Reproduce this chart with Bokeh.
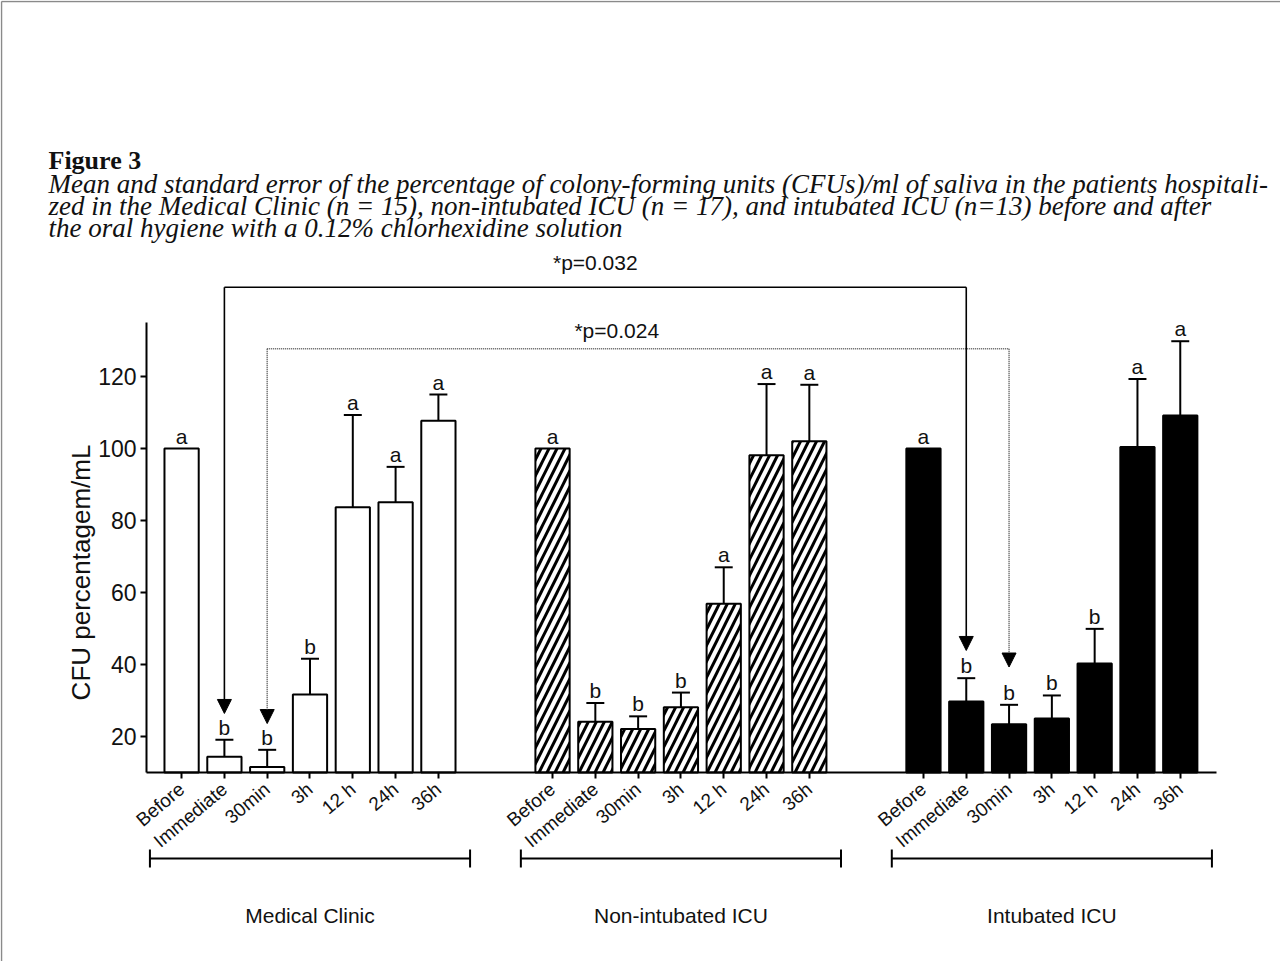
import math
from bokeh.plotting import figure
from bokeh.models import Range1d, LinearAxis, FixedTicker, Arrow, NormalHead
from bokeh.embed import file_html
from bokeh.resources import INLINE
from bokeh.core.properties import value

# ---------------- data ----------------
groups = ["Medical Clinic", "Non-intubated ICU", "Intubated ICU"]
times = ["Before", "Immediate", "30min", "3h", "12 h", "24h", "36h"]

mean_mc = [100.0, 14.4, 11.5, 31.7, 83.7, 85.1, 107.7]
se_mc = [0.0, 4.7, 4.8, 9.9, 25.6, 9.8, 7.3]
let_mc = ["a", "b", "b", "b", "a", "a", "a"]

mean_ni = [100.0, 24.1, 22.1, 28.1, 56.9, 98.1, 102.0]
se_ni = [0.0, 5.2, 3.5, 4.1, 10.1, 19.8, 15.7]
let_ni = ["a", "b", "b", "b", "a", "a", "a"]

mean_ic = [100.0, 29.7, 23.4, 25.0, 40.3, 100.4, 109.2]
se_ic = [0.0, 6.5, 5.4, 6.4, 9.6, 18.9, 20.6]
let_ic = ["a", "b", "b", "b", "b", "a", "a"]

y_ticks = [20, 40, 60, 80, 100, 120]
y_label = "CFU percentagem/mL"

# significance comparisons between Medical Clinic and Intubated ICU
sig_time_idx = [1, 2]
sig_text = ["*p=0.032", "*p=0.024"]
sig_level = [144.8, 127.7]
sig_tip_mc = [26.4, 23.6]
sig_tip_ic = [43.9, 39.3]
sig_label_x_shift = [0.0, -0.5]
sig_label_y = [151.7, 132.8]

title_text = "Figure 3"
caption_lines = [
    "Mean and standard error of the percentage of colony-forming units (CFUs)/ml of saliva in the patients hospitali-",
    "zed in the Medical Clinic (n = 15), non-intubated ICU (n = 17), and intubated ICU (n=13) before and after",
    "the oral hygiene with a 0.12% chlorhexidine solution",
]

# ---------------- layout constants ----------------
W, H = 1280, 961
AX_PX_LEFT, AX_PX_RIGHT = 146, 1216     # pixel extent of x axis
AX_PX_BASE = 772                        # pixel row of y = 10
PX_PER_X = 42.8
PX_PER_Y = 3.6
Y_BASE = 10.0
X_LEFT = -0.82
GROUP_STEP = 26.0 / 3.0
BAR_W = 0.8
CAP_HALF = 0.21
SANS = value("Liberation Sans")
SERIF = value("Liberation Serif")
INK = "#111111"


def X(px):
    return X_LEFT + (px - AX_PX_LEFT) / PX_PER_X


def Y(py):
    return Y_BASE + (AX_PX_BASE - py) / PX_PER_Y


def pos(g, i):
    return round(g * GROUP_STEP + i, 4)


means = [mean_mc, mean_ni, mean_ic]
ses = [se_mc, se_ni, se_ic]
lets = [let_mc, let_ni, let_ic]

p = figure(width=W, height=H, x_range=Range1d(X(0), X(W)), y_range=Range1d(Y(H), Y(0)),
           output_backend="svg", toolbar_location=None, min_border=0,
           x_axis_location=None, y_axis_location=None)
p.grid.grid_line_color = None
p.outline_line_color = None

# page border (grey frame of the figure box)
p.segment(x0=[X(1), X(1)], y0=[Y(1), Y(1)], x1=[X(W), X(1)], y1=[Y(1), Y(H)],
          line_color="#8a8a8a", line_width=1.5)

# heading
p.text(x=[X(48)], y=[Y(160)], text=[title_text], text_font=SERIF, text_font_style="bold",
       text_font_size="26px", text_color=INK, text_baseline="alphabetic")
p.text(x=[X(48)] * 3, y=[Y(183), Y(205), Y(227)], text=caption_lines, text_font=SERIF,
       text_font_style="italic", text_font_size="27px", text_color=INK,
       text_baseline="alphabetic")

# bars
fills = ["white", "white", "black"]
for g in range(3):
    xs = [pos(g, i) for i in range(7)]
    kw = dict(x=xs, width=BAR_W, bottom=Y_BASE, top=means[g], fill_color=fills[g],
              line_color="black", line_width=2)
    if g == 1:
        kw.update(hatch_pattern="/", hatch_color="black", hatch_weight=3, hatch_scale=16)
    p.vbar(**kw)
    ex = [x for x, s in zip(xs, ses[g]) if s > 0]
    ey0 = [m for m, s in zip(means[g], ses[g]) if s > 0]
    ey1 = [m + s for m, s in zip(means[g], ses[g]) if s > 0]
    p.segment(x0=ex, y0=ey0, x1=ex, y1=ey1, line_color="black", line_width=2)
    p.segment(x0=[x - CAP_HALF for x in ex], y0=ey1, x1=[x + CAP_HALF for x in ex], y1=ey1,
              line_color="black", line_width=2)
    caps = [m + s for m, s in zip(means[g], ses[g])]
    p.text(x=xs, y=caps, text=lets[g], text_font=SANS, text_font_size="21px",
           text_align="center", text_baseline="bottom", y_offset=-1, text_color=INK)

# significance brackets with arrows
styles = [dict(line_color="black", line_width=1.6, line_dash="solid"),
          dict(line_color="#555555", line_width=1.6, line_dash="1 1")]
for k in range(2):
    xa = pos(0, sig_time_idx[k])
    xb = pos(2, sig_time_idx[k])
    st = styles[k]
    p.segment(x0=[xa], y0=[sig_level[k]], x1=[xb], y1=[sig_level[k]], **st)
    for xx, tip in ((xa, sig_tip_mc[k]), (xb, sig_tip_ic[k])):
        p.add_layout(Arrow(x_start=xx, y_start=sig_level[k], x_end=xx, y_end=tip,
                           line_color=st["line_color"], line_width=st["line_width"],
                           line_dash=st["line_dash"],
                           end=NormalHead(size=14, fill_color="black", line_color="black",
                                          line_width=1)))
    p.text(x=[(xa + xb) / 2 + sig_label_x_shift[k]], y=[sig_label_y[k]], text=[sig_text[k]],
           text_font=SANS, text_font_size="21px", text_align="center",
           text_baseline="middle", text_color=INK)

# group brackets below the axis
br_y = Y(858)
br_h = 9 / PX_PER_Y
for g in range(3):
    x0 = pos(g, 0) - 0.74
    x1 = pos(g, 6) + 0.74
    p.segment(x0=[x0], y0=[br_y], x1=[x1], y1=[br_y], line_color="black", line_width=2)
    p.segment(x0=[x0, x1], y0=[br_y - br_h] * 2, x1=[x0, x1], y1=[br_y + br_h] * 2,
              line_color="black", line_width=2)
    p.text(x=[pos(g, 3)], y=[Y(915)], text=[groups[g]], text_font=SANS, text_font_size="21px",
           text_align="center", text_baseline="middle", text_color=INK)

# y axis title
p.text(x=[X(80)], y=[Y(572)], text=[y_label], angle=math.pi / 2, text_font=SANS,
       text_font_size="26px", text_align="center", text_baseline="middle", text_color=INK)

# axes
tick_pos = [pos(g, i) for g in range(3) for i in range(7)]
overrides = {pos(g, i): times[i] for g in range(3) for i in range(7)}
xaxis = LinearAxis(fixed_location=Y_BASE, bounds=(X(AX_PX_LEFT), X(AX_PX_RIGHT)),
                   ticker=FixedTicker(ticks=tick_pos), major_label_overrides=overrides)
xaxis.major_label_orientation = math.radians(40)
xaxis.major_label_text_font = "Liberation Sans"
xaxis.major_label_text_font_size = "19px"
xaxis.major_label_text_color = INK
xaxis.major_label_standoff = 8
xaxis.axis_line_width = 2
xaxis.major_tick_line_width = 2
xaxis.major_tick_out = 6
xaxis.major_tick_in = 0
xaxis.minor_tick_line_color = None
p.add_layout(xaxis, "below")

yaxis = LinearAxis(fixed_location=X(AX_PX_LEFT), bounds=(Y_BASE, 135),
                   ticker=FixedTicker(ticks=y_ticks))
yaxis.major_label_text_font = "Liberation Sans"
yaxis.major_label_text_font_size = "23px"
yaxis.major_label_text_color = INK
yaxis.major_label_standoff = 4
yaxis.axis_line_width = 2
yaxis.major_tick_line_width = 2
yaxis.major_tick_out = 6
yaxis.major_tick_in = 0
yaxis.minor_tick_line_color = None
p.add_layout(yaxis, "left")

open("out.html", "w").write(file_html(p, INLINE))
